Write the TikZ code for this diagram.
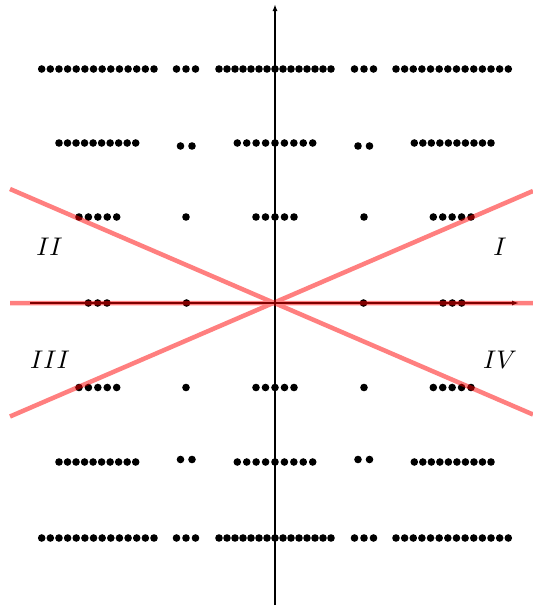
\documentclass[tikz,border=0pt]{standalone}
\usetikzlibrary{arrows.meta}
\tikzset{
  axis/.style={line width=1.8pt,-{Latex[length=7pt,width=5pt]}},
  pt/.style={fill=black},
  lab/.style={scale=2.55}
}
\newcommand{\dotrow}[4]{% y, x1, x2, n
  \pgfmathsetmacro{\dstep}{(#3-#2)/(#4-1)}
  \foreach \i in {1,...,#4}{
    \fill[pt] ({#2+(\i-1)*\dstep},#1) circle (3.8);
  }}
\newcommand{\onedot}[2]{\fill[pt] (#2,#1) circle (3.8);}
\begin{document}
\begin{tikzpicture}[x=1pt,y=-1pt]
\useasboundingbox (0,0) rectangle (533,608);
% row 1 and row 7
\foreach \yy in {69,538}{
  \dotrow{\yy}{41.7}{154}{14}
  \dotrow{\yy}{176.5}{195.5}{3}
  \dotrow{\yy}{219}{331}{15}
  \dotrow{\yy}{354.5}{373.5}{3}
  \dotrow{\yy}{396}{508.3}{14}
}
% row 2
\dotrow{143}{59}{135.7}{10}
\dotrow{146}{180.5}{192}{2}
\dotrow{143}{237.3}{312.7}{9}
\dotrow{146}{358}{369.5}{2}
\dotrow{143}{414.3}{491}{10}
% row 6
\dotrow{462}{59}{135.7}{10}
\dotrow{459.5}{180.5}{192}{2}
\dotrow{462}{237.3}{312.7}{9}
\dotrow{459.5}{358}{369.5}{2}
\dotrow{462}{414.3}{491}{10}
% rows 3 and 5
\foreach \yy in {217,387.5}{
  \dotrow{\yy}{79}{116.7}{5}
  \onedot{\yy}{186}
  \dotrow{\yy}{256}{294}{5}
  \onedot{\yy}{364}
  \dotrow{\yy}{433.3}{471}{5}
}
% row 4
\dotrow{303}{88.3}{107}{3}
\onedot{303}{186.5}
\onedot{303}{363.5}
\dotrow{303}{443}{461.7}{3}
% axes
\coordinate (O) at (275,303);
\coordinate (xs) at (30,303);
\coordinate (xe) at (519,303);
\coordinate (ys) at (275,605);
\coordinate (ye) at (275,4);
\draw[axis] (xs) -- (xe);
\draw[axis] (ys) -- (ye);
% red lines
\coordinate (a1) at (10,189);
\coordinate (a2) at (533,414.5);
\coordinate (b1) at (10,416.5);
\coordinate (b2) at (533,191);
\coordinate (h1) at (10,303);
\coordinate (h2) at (533,303);
\begin{scope}[transparency group, opacity=0.5]
\draw[line width=4.5pt,red] (a1) -- (a2);
\draw[line width=4.5pt,red] (b1) -- (b2);
\draw[line width=4.5pt,red] (h1) -- (h2);
\end{scope}
% labels
\node[lab] (q1) at (500,247) {$I$};
\node[lab] (q2) at (49.5,247) {$II$};
\node[lab] (q3) at (50,360) {$III$};
\node[lab] (q4) at (500,360) {$IV$};
\end{tikzpicture}
\end{document}
